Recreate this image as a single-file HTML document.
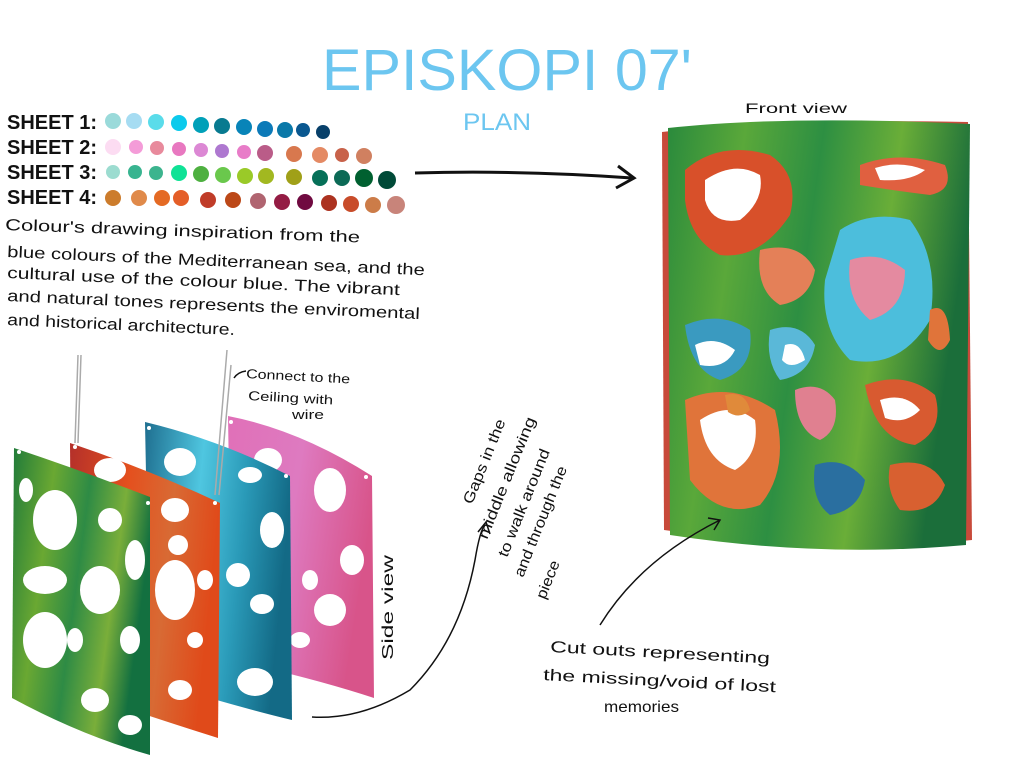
<!DOCTYPE html>
<html><head><meta charset="utf-8"><style>
html,body{margin:0;padding:0;background:#fff;}
svg{display:block}
text{font-family:"Liberation Sans",sans-serif;fill:#111;}
</style></head><body>
<svg width="1024" height="768" viewBox="0 0 1024 768" xmlns="http://www.w3.org/2000/svg">
<defs>
<linearGradient id="gG" x1="0" y1="0" x2="1" y2="0.3">
<stop offset="0" stop-color="#1f7a3a"/><stop offset="0.3" stop-color="#6aa832"/><stop offset="0.55" stop-color="#2e8b45"/><stop offset="0.8" stop-color="#7aae3a"/><stop offset="1" stop-color="#137040"/></linearGradient>
<linearGradient id="gR" x1="0" y1="0" x2="1" y2="0.2">
<stop offset="0" stop-color="#b4302a"/><stop offset="0.4" stop-color="#e4501e"/><stop offset="0.7" stop-color="#d86a34"/><stop offset="1" stop-color="#e04a1a"/></linearGradient>
<linearGradient id="gB" x1="0" y1="0" x2="1" y2="0.2">
<stop offset="0" stop-color="#1f6f90"/><stop offset="0.4" stop-color="#4fc6e0"/><stop offset="0.7" stop-color="#2a9ab8"/><stop offset="1" stop-color="#136a86"/></linearGradient>
<linearGradient id="gP" x1="0" y1="0" x2="1" y2="0.3">
<stop offset="0" stop-color="#e070b8"/><stop offset="0.5" stop-color="#de7ac0"/><stop offset="1" stop-color="#d8548a"/></linearGradient>
<linearGradient id="gF" x1="0" y1="0" x2="1" y2="0.2">
<stop offset="0" stop-color="#2a8a3c"/><stop offset="0.25" stop-color="#5aa83a"/><stop offset="0.5" stop-color="#2d8f42"/><stop offset="0.75" stop-color="#6aae38"/><stop offset="1" stop-color="#1b6e3a"/></linearGradient>
</defs>

<!-- Title -->
<text x="322" y="90" font-size="58" textLength="370" lengthAdjust="spacingAndGlyphs" style="fill:#6cc6f0">EPISKOPI 07'</text>
<text x="463" y="130" font-size="24" textLength="68" lengthAdjust="spacingAndGlyphs" style="fill:#6cc6f0">PLAN</text>

<!-- Sheet labels -->
<g font-size="20" font-weight="bold">
<text x="7" y="129" textLength="90" lengthAdjust="spacingAndGlyphs">SHEET 1:</text>
<text x="7" y="154" textLength="90" lengthAdjust="spacingAndGlyphs">SHEET 2:</text>
<text x="7" y="179" textLength="90" lengthAdjust="spacingAndGlyphs">SHEET 3:</text>
<text x="7" y="204" textLength="90" lengthAdjust="spacingAndGlyphs">SHEET 4:</text>
</g>
<g>
<circle cx="113" cy="121" r="8" fill="#9adada"/><circle cx="134" cy="121" r="8" fill="#a6dcf2"/><circle cx="156" cy="122" r="8" fill="#5adcea"/><circle cx="179" cy="123" r="8" fill="#0ccaec"/><circle cx="201" cy="125" r="8" fill="#00a0b8"/><circle cx="222" cy="126" r="8" fill="#087a90"/><circle cx="244" cy="127" r="8" fill="#0884b8"/><circle cx="265" cy="129" r="8" fill="#0c7ab8"/><circle cx="285" cy="130" r="8" fill="#0a78a8"/><circle cx="303" cy="130" r="7" fill="#0a5890"/><circle cx="323" cy="132" r="7" fill="#08406a"/>
<circle cx="113" cy="147" r="8" fill="#fcdcf2"/><circle cx="136" cy="147" r="7" fill="#f49cd8"/><circle cx="157" cy="148" r="7" fill="#e88a9c"/><circle cx="179" cy="149" r="7" fill="#e878c0"/><circle cx="201" cy="150" r="7" fill="#dc88d4"/><circle cx="222" cy="151" r="7" fill="#ae78d0"/><circle cx="244" cy="152" r="7" fill="#e87cc8"/><circle cx="265" cy="153" r="8" fill="#ba5c88"/><circle cx="294" cy="154" r="8" fill="#d8784e"/><circle cx="320" cy="155" r="8" fill="#e48a64"/><circle cx="342" cy="155" r="7" fill="#c8624a"/><circle cx="364" cy="156" r="8" fill="#d08060"/>
<circle cx="113" cy="172" r="7" fill="#9cdcd0"/><circle cx="135" cy="172" r="7" fill="#38b490"/><circle cx="156" cy="173" r="7" fill="#3cb48e"/><circle cx="179" cy="173" r="8" fill="#10e296"/><circle cx="201" cy="174" r="8" fill="#4eb040"/><circle cx="223" cy="175" r="8" fill="#6ac84c"/><circle cx="245" cy="176" r="8" fill="#9aca28"/><circle cx="266" cy="176" r="8" fill="#a2b820"/><circle cx="294" cy="177" r="8" fill="#a0a018"/><circle cx="320" cy="178" r="8" fill="#067058"/><circle cx="342" cy="178" r="8" fill="#0c6a56"/><circle cx="364" cy="178" r="9" fill="#006030"/><circle cx="387" cy="180" r="9" fill="#004a38"/>
<circle cx="113" cy="198" r="8" fill="#cc7c2c"/><circle cx="139" cy="198" r="8" fill="#e08a4a"/><circle cx="162" cy="198" r="8" fill="#e46a24"/><circle cx="181" cy="198" r="8" fill="#e45e28"/><circle cx="208" cy="200" r="8" fill="#c03c28"/><circle cx="233" cy="200" r="8" fill="#bc4818"/><circle cx="258" cy="201" r="8" fill="#b06470"/><circle cx="282" cy="202" r="8" fill="#941c44"/><circle cx="305" cy="202" r="8" fill="#700a40"/><circle cx="329" cy="203" r="8" fill="#ac3220"/><circle cx="351" cy="204" r="8" fill="#c84c2a"/><circle cx="373" cy="205" r="8" fill="#cc7c48"/><circle cx="396" cy="205" r="9" fill="#c8847a"/>
</g>

<!-- description text -->
<g font-size="16">
<text x="5" y="230" textLength="355" lengthAdjust="spacingAndGlyphs" transform="rotate(2 5 230)">Colour's drawing inspiration from the</text>
<text x="7" y="257" textLength="418" lengthAdjust="spacingAndGlyphs" transform="rotate(2.5 7 257)">blue colours of the Mediterranean sea, and the</text>
<text x="7" y="278" textLength="393" lengthAdjust="spacingAndGlyphs" transform="rotate(2.5 7 278)">cultural use of the colour blue. The vibrant</text>
<text x="7" y="301" textLength="413" lengthAdjust="spacingAndGlyphs" transform="rotate(2.5 7 301)">and natural tones represents the enviromental</text>
<text x="7" y="325" textLength="228" lengthAdjust="spacingAndGlyphs" transform="rotate(2.5 7 325)">and historical architecture.</text>
</g>

<!-- arrow to front view -->
<path d="M415 173 Q520 170 632 178" stroke="#111" stroke-width="3" fill="none"/>
<path d="M618 166 L634 178 L616 188" stroke="#111" stroke-width="3" fill="none"/>

<!-- Front view -->
<text x="745" y="113" font-size="14" textLength="102" lengthAdjust="spacingAndGlyphs">Front view</text>
<path d="M662 132 Q780 118 968 122 L972 540 Q840 555 664 530 Z" fill="#c84a3a"/>
<path d="M668 128 Q790 115 970 124 L966 545 Q820 558 670 535 Z" fill="url(#gF)"/>
<g>
<path d="M685 170 Q720 140 770 155 Q800 175 790 215 Q760 260 720 255 Q690 240 685 200 Z" fill="#d8502a"/>
<path d="M705 180 Q735 160 760 175 Q765 200 740 220 Q712 225 705 200 Z" fill="#fff"/>
<path d="M860 165 Q900 150 945 165 Q955 190 930 195 Q890 190 860 185 Z" fill="#e06040"/>
<path d="M875 168 Q900 160 925 170 Q910 182 880 180 Z" fill="#fff"/>
<path d="M840 230 Q870 210 910 220 Q940 260 930 320 Q900 370 850 360 Q820 330 825 280 Z" fill="#4cbedc"/>
<path d="M850 260 Q880 250 905 270 Q905 310 870 320 Q845 300 850 260 Z" fill="#e48aa0"/>
<path d="M760 250 Q800 240 815 270 Q810 300 780 305 Q755 290 760 250 Z" fill="#e48058"/>
<path d="M685 325 Q720 310 750 330 Q755 370 720 380 Q690 370 685 325 Z" fill="#3a9ac0"/>
<path d="M695 345 Q715 335 735 350 Q725 370 700 365 Z" fill="#fff"/>
<path d="M770 330 Q800 320 815 345 Q810 375 780 380 Q765 360 770 330 Z" fill="#5ab8d8"/>
<path d="M785 345 Q800 340 805 360 Q790 370 782 360 Z" fill="#fff"/>
<path d="M685 400 Q730 380 775 410 Q790 470 760 505 Q720 520 690 480 Z" fill="#e0743a"/>
<path d="M700 420 Q730 400 755 420 Q760 455 735 470 Q705 460 700 420 Z" fill="#fff"/>
<path d="M795 390 Q820 380 835 400 Q840 430 820 440 Q795 430 795 390 Z" fill="#e08090"/>
<path d="M865 385 Q905 370 935 395 Q945 430 915 445 Q875 440 865 385 Z" fill="#d85a30"/>
<path d="M880 400 Q905 392 920 410 Q905 425 885 418 Z" fill="#fff"/>
<path d="M815 465 Q845 455 865 480 Q860 510 830 515 Q810 500 815 465 Z" fill="#2a6fa0"/>
<path d="M890 465 Q930 455 945 485 Q935 515 900 510 Q885 490 890 465 Z" fill="#d86030"/>
<path d="M930 310 Q948 300 950 340 Q940 360 928 340 Z" fill="#e0743a"/>
<path d="M725 395 Q745 390 750 410 Q740 420 728 412 Z" fill="#e08a3a"/>
</g>

<!-- Side view panels -->
<path d="M228 416 Q300 430 372 476 L374 698 Q320 680 232 660 Z" fill="url(#gP)"/>
<g fill="#fff">
<ellipse cx="330" cy="490" rx="16" ry="22"/><ellipse cx="352" cy="560" rx="12" ry="15"/><ellipse cx="330" cy="610" rx="16" ry="16"/><ellipse cx="310" cy="580" rx="8" ry="10"/><ellipse cx="268" cy="460" rx="14" ry="12"/><ellipse cx="300" cy="640" rx="10" ry="8"/>
<circle cx="231" cy="422" r="2"/><circle cx="366" cy="477" r="2"/>
</g>
<path d="M145 422 Q220 440 290 476 L292 720 Q230 705 150 680 Z" fill="url(#gB)"/>
<g fill="#fff">
<ellipse cx="180" cy="462" rx="16" ry="14"/><ellipse cx="250" cy="475" rx="12" ry="8"/><ellipse cx="272" cy="530" rx="12" ry="18"/><ellipse cx="238" cy="575" rx="12" ry="12"/><ellipse cx="262" cy="604" rx="12" ry="10"/><ellipse cx="255" cy="682" rx="18" ry="14"/><ellipse cx="178" cy="530" rx="8" ry="10"/><ellipse cx="205" cy="520" rx="10" ry="14"/>
<circle cx="149" cy="428" r="2"/><circle cx="286" cy="476" r="2"/>
</g>
<path d="M70 443 Q150 470 220 503 L218 738 Q160 720 72 690 Z" fill="url(#gR)"/>
<g fill="#fff">
<ellipse cx="110" cy="470" rx="16" ry="12"/><ellipse cx="175" cy="510" rx="14" ry="12"/><ellipse cx="178" cy="545" rx="10" ry="10"/><ellipse cx="175" cy="590" rx="20" ry="30"/><ellipse cx="205" cy="580" rx="8" ry="10"/><ellipse cx="195" cy="640" rx="8" ry="8"/><ellipse cx="180" cy="690" rx="12" ry="10"/><ellipse cx="125" cy="610" rx="14" ry="20"/>
<circle cx="75" cy="447" r="2"/><circle cx="215" cy="503" r="2"/>
</g>
<path d="M14 448 Q80 470 150 497 L150 755 Q80 735 12 698 Z" fill="url(#gG)"/>
<g fill="#fff">
<ellipse cx="26" cy="490" rx="7" ry="12"/><ellipse cx="55" cy="520" rx="22" ry="30"/><ellipse cx="45" cy="580" rx="22" ry="14"/><ellipse cx="100" cy="590" rx="20" ry="24"/><ellipse cx="45" cy="640" rx="22" ry="28"/><ellipse cx="110" cy="520" rx="12" ry="12"/><ellipse cx="135" cy="560" rx="10" ry="20"/><ellipse cx="130" cy="640" rx="10" ry="14"/><ellipse cx="95" cy="700" rx="14" ry="12"/><ellipse cx="130" cy="725" rx="12" ry="10"/><ellipse cx="75" cy="640" rx="8" ry="12"/>
<circle cx="19" cy="452" r="2"/><circle cx="148" cy="503" r="2"/>
</g>
<path d="M78 355 L75 443 M81 355 L78 443 M227 350 L215 495 M231 365 L219 495" stroke="#aaa" stroke-width="1.5" fill="none"/>

<!-- annotations -->
<path d="M234 378 Q238 372 246 371" stroke="#111" stroke-width="1.5" fill="none"/>
<text x="246" y="378" font-size="13" textLength="104" lengthAdjust="spacingAndGlyphs" transform="rotate(3 246 378)">Connect to the</text>
<text x="248" y="400" font-size="13" textLength="85" lengthAdjust="spacingAndGlyphs" transform="rotate(3 248 400)">Ceiling with</text>
<text x="292" y="419" font-size="13" textLength="32" lengthAdjust="spacingAndGlyphs">wire</text>
<text x="393" y="660" font-size="16" textLength="105" lengthAdjust="spacingAndGlyphs" transform="rotate(-90 393 660)">Side view</text>

<path d="M312 717 Q360 720 410 690 Q460 640 475 560 Q480 530 485 525" stroke="#111" stroke-width="1.5" fill="none"/>
<path d="M478 532 L486 522 L490 534" stroke="#111" stroke-width="1.5" fill="none"/>
<g font-size="15">
<text x="472" y="505" textLength="90" lengthAdjust="spacingAndGlyphs" transform="rotate(-68 472 505)">Gaps in the</text>
<text x="487" y="540" textLength="130" lengthAdjust="spacingAndGlyphs" transform="rotate(-68 487 540)">middle allowing</text>
<text x="507" y="558" textLength="115" lengthAdjust="spacingAndGlyphs" transform="rotate(-68 507 558)">to walk around</text>
<text x="523" y="578" textLength="118" lengthAdjust="spacingAndGlyphs" transform="rotate(-68 523 578)">and through the</text>
<text x="545" y="600" textLength="40" lengthAdjust="spacingAndGlyphs" transform="rotate(-68 545 600)">piece</text>
</g>

<path d="M600 625 Q640 560 720 520" stroke="#111" stroke-width="1.5" fill="none"/>
<path d="M708 518 L720 520 L714 530" stroke="#111" stroke-width="1.5" fill="none"/>
<g font-size="16">
<text x="550" y="652" textLength="220" lengthAdjust="spacingAndGlyphs" transform="rotate(3 550 652)">Cut outs representing</text>
<text x="543" y="680" textLength="233" lengthAdjust="spacingAndGlyphs" transform="rotate(3 543 680)">the missing/void of lost</text>
<text x="604" y="712" textLength="75" lengthAdjust="spacingAndGlyphs">memories</text>
</g>
</svg>
</body></html>
